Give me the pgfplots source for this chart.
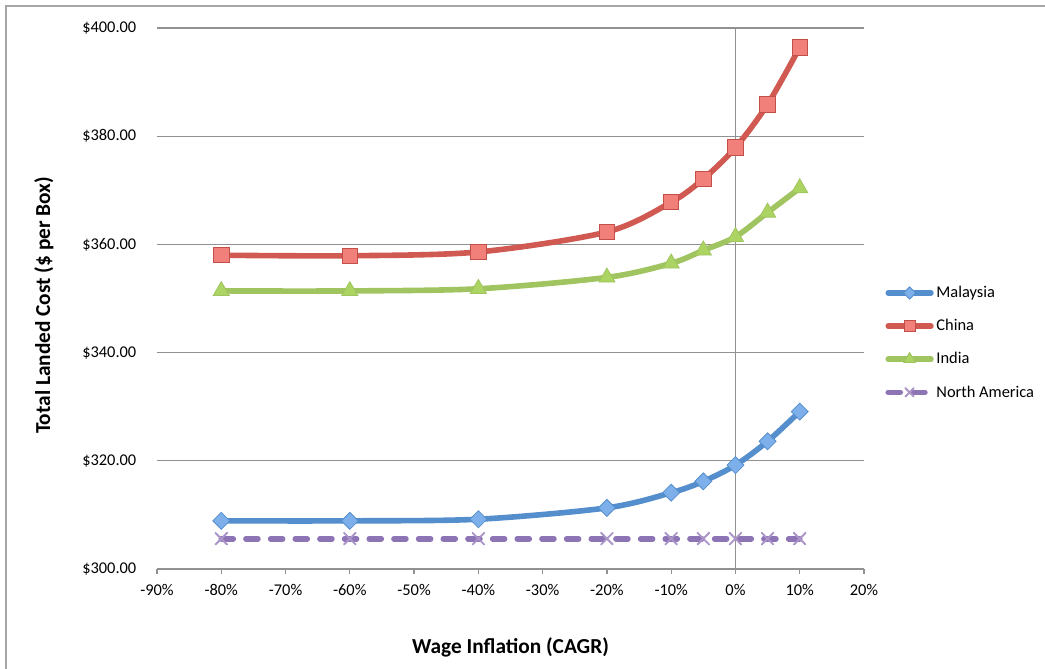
\documentclass[border=0pt]{standalone}
\usepackage{pgfplots}
\pgfplotsset{compat=1.18}
\usepackage{fontspec}
\setmainfont{Carlito}

\definecolor{malayline}{RGB}{85,142,204}
\definecolor{malayfill}{RGB}{125,176,234}
\definecolor{chinaline}{RGB}{208,90,82}
\definecolor{chinafill}{RGB}{242,128,122}
\definecolor{chinaedge}{RGB}{196,78,72}
\definecolor{indialine}{RGB}{160,196,95}
\definecolor{indiafill}{RGB}{172,212,98}
\definecolor{naline}{RGB}{141,116,181}
\definecolor{namark}{RGB}{170,148,200}
\definecolor{gridgray}{RGB}{145,145,145}
\definecolor{framegray}{RGB}{165,165,165}

\begin{document}
\begin{tikzpicture}
\useasboundingbox (0,0) rectangle (783.75pt,501pt);
% outer chart frame
\draw[framegray, line width=1.1pt] (4.5pt,-10pt) -- (4.5pt,496.5pt) -- (800pt,496.5pt);

\begin{axis}[
  at={(117.75pt,74.25pt)}, anchor=south west,
  scale only axis, width=530.25pt, height=405.75pt,
  xmin=-90, xmax=20, ymin=300, ymax=400,
  xtick={-90,-80,...,20},
  xticklabels={-90\%,-80\%,-70\%,-60\%,-50\%,-40\%,-30\%,-20\%,-10\%,0\%,10\%,20\%},
  ytick={300,320,...,400},
  yticklabel={\$\pgfmathprintnumber[fixed,fixed zerofill,precision=2]{\tick}},
  /pgf/number format/assume math mode=true,
  axis x line*=bottom, axis y line*=left,
  y axis line style={draw=none},
  x axis line style={draw=gridgray, line width=1pt, -},
  ytick style={draw=none},
  xtick style={draw=gridgray, line width=1pt},
  tick align=outside, major tick length=4pt,
  ymajorgrids, grid style={draw=gridgray, line width=1pt},
  tick label style={font=\fontsize{12.3}{14}\selectfont},
  y tick label style={xshift=-8pt},
  x tick label style={yshift=-4pt},
  clip=false,
  legend style={at={(1.03,0.528)}, anchor=north west, draw=none, fill=none,
    font=\fontsize{12.3}{14}\selectfont, row sep=10.8pt, inner sep=0pt,
    nodes={inner sep=2pt}},
  legend cell align=left,
  legend image code/.code={\draw[#1, mark repeat=2, mark phase=2,
      every mark/.append style={scale=0.72}]
    plot coordinates {(0pt,0pt) (16pt,0pt) (32pt,0pt)};},
]
% vertical axis crossing at 0%
\draw[gridgray, line width=1pt] (axis cs:0,300) -- (axis cs:0,400);

\addplot[smooth, malayline, line width=4.2pt, line cap=round,
  mark=square*, mark size=4.5pt,
  mark options={rotate=45, fill=malayfill, draw=malayline, line width=0.6pt, solid}]
  coordinates {(-80,308.9) (-60,308.9) (-40,309.2) (-20,311.3) (-10,314.1)
               (-5,316.2) (0,319.2) (5,323.6) (10,329.1)};
\addlegendentry{Malaysia}

\addplot[smooth, chinaline, line width=4.2pt, line cap=round,
  mark=square*, mark size=5.8pt,
  mark options={fill=chinafill, draw=chinaedge, line width=0.7pt, solid}]
  coordinates {(-80,358.0) (-60,357.9) (-40,358.6) (-20,362.3) (-10,367.8)
               (-5,372.1) (0,377.9) (5,385.9) (10,396.4)};
\addlegendentry{China}

\addplot[smooth, indialine, line width=4.2pt, line cap=round,
  mark=triangle*, mark size=7pt,
  mark options={fill=indiafill, draw=indialine, line width=0.6pt, solid}]
  coordinates {(-80,351.4) (-60,351.4) (-40,351.8) (-20,353.9) (-10,356.5)
               (-5,358.9) (0,361.4) (5,365.9) (10,370.4)};
\addlegendentry{India}

\addplot[naline, line width=4.2pt, line cap=round,
  dash pattern=on 9pt off 9.5pt,
  mark=x, mark size=6.2pt,
  mark options={draw=namark, line width=1.4pt, solid}]
  coordinates {(-80,305.6) (-60,305.6) (-40,305.6) (-20,305.6) (-10,305.6)
               (-5,305.6) (0,305.6) (5,305.6) (10,305.6)};
\addlegendentry{North America}
\end{axis}

% axis titles
\node[font=\fontsize{16}{19}\selectfont\bfseries] at (382.9pt,15.75pt) {Wage Inflation (CAGR)};
\node[font=\fontsize{16}{19}\selectfont\bfseries, rotate=90] at (33pt,272pt) {Total Landed Cost (\$ per Box)};
\end{tikzpicture}
\end{document}
